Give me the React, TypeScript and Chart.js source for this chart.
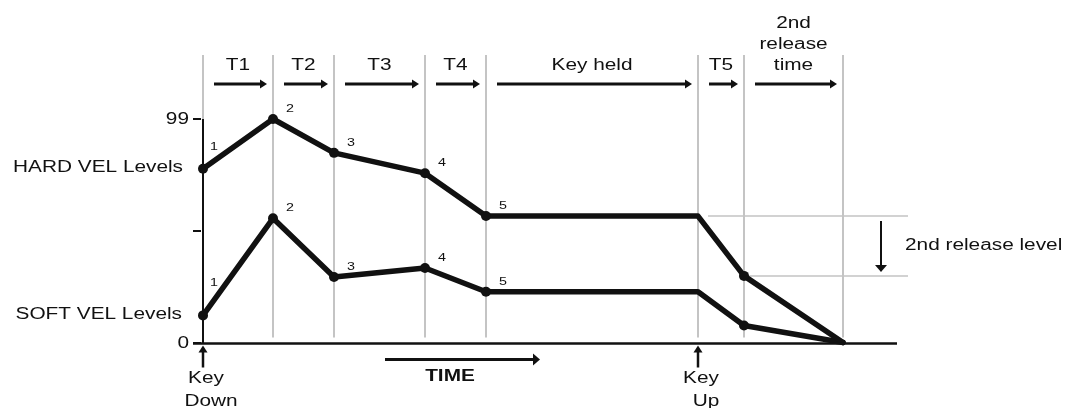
import React, { useEffect, useRef } from "react";
import { Chart, registerables } from "chart.js";

Chart.register(...registerables);

// ---- data ----
const times = [0, 70, 131, 222, 283, 495, 541, 640];
const hardLevels = [77, 99, 84, 75, 56, 56, 29.5, 0];
const softLevels = [12, 55, 29, 33, 22.5, 22.5, 7.5, 0];
const pointNumbers = ["1", "2", "3", "4", "5", "", "", ""];
const pointDots = [true, true, true, true, true, false, true, false];
const segmentLabels = [["T1"], ["T2"], ["T3"], ["T4"], ["Key held"], ["T5"], ["2nd", "release", "time"]];
const seriesNames = ["HARD VEL Levels", "SOFT VEL Levels"];
const yTickValues = [0, 49.5, 99];
const yTickLabels = ["0", "", "99"];
const keyDownLabel = ["Key", "Down"];
const keyUpLabel = ["Key", "Up"];
const releaseLevelLabel = "2nd release level";
const timeLabel = "TIME";
const X_MAX = 694;
const Y_MAX = 99;

const FONT = '"Liberation Sans", Arial, sans-serif';
const SX = 1.3;
const GRAY = "#c4c4c4";
const INK = "#111111";

function txt(ctx: CanvasRenderingContext2D, s: string, x: number, y: number, align: CanvasTextAlign, font: string) {
  ctx.save();
  ctx.translate(x, y);
  ctx.scale(SX, 1);
  ctx.font = font;
  ctx.textAlign = align;
  ctx.textBaseline = "middle";
  ctx.fillStyle = INK;
  ctx.fillText(s, 0, 0);
  ctx.restore();
}

function arrowH(ctx: CanvasRenderingContext2D, x1: number, x2: number, y: number, lw: number, hl: number, hw: number) {
  ctx.save();
  ctx.strokeStyle = INK;
  ctx.fillStyle = INK;
  ctx.lineWidth = lw;
  ctx.beginPath();
  ctx.moveTo(x1, y);
  ctx.lineTo(x2 - hl + 1, y);
  ctx.stroke();
  ctx.beginPath();
  ctx.moveTo(x2, y);
  ctx.lineTo(x2 - hl, y - hw);
  ctx.lineTo(x2 - hl, y + hw);
  ctx.closePath();
  ctx.fill();
  ctx.restore();
}

function arrowV(ctx: CanvasRenderingContext2D, x: number, yTail: number, yTip: number, lw: number, hl: number, hw: number) {
  const dir = yTip > yTail ? 1 : -1;
  ctx.save();
  ctx.strokeStyle = INK;
  ctx.fillStyle = INK;
  ctx.lineWidth = lw;
  ctx.beginPath();
  ctx.moveTo(x, yTail);
  ctx.lineTo(x, yTip - dir * (hl - 1));
  ctx.stroke();
  ctx.beginPath();
  ctx.moveTo(x, yTip);
  ctx.lineTo(x - hw, yTip - dir * hl);
  ctx.lineTo(x + hw, yTip - dir * hl);
  ctx.closePath();
  ctx.fill();
  ctx.restore();
}

const envelopePlugin = {
  id: "envelope",
  beforeDatasetsDraw(chart: any) {
    const ctx: CanvasRenderingContext2D = chart.ctx;
    const xs = chart.scales.x;
    const ys = chart.scales.y;
    const top = 55;
    const bottom = ys.getPixelForValue(0) - 5;
    ctx.save();
    ctx.strokeStyle = GRAY;
    ctx.lineWidth = 2;
    times.forEach((t) => {
      const x = Math.round(xs.getPixelForValue(t));
      ctx.beginPath();
      ctx.moveTo(x, top);
      ctx.lineTo(x, bottom);
      ctx.stroke();
    });
    const rightEnd = xs.getPixelForValue(X_MAX) + 11;
    const y1 = Math.round(ys.getPixelForValue(hardLevels[5]));
    const y2 = Math.round(ys.getPixelForValue(hardLevels[6]));
    ctx.lineWidth = 1.5;
    ctx.beginPath();
    ctx.moveTo(xs.getPixelForValue(times[5]) + 10, y1);
    ctx.lineTo(rightEnd, y1);
    ctx.moveTo(xs.getPixelForValue(times[6]), y2);
    ctx.lineTo(rightEnd, y2);
    ctx.stroke();
    ctx.restore();
  },
  afterDatasetsDraw(chart: any) {
    const ctx: CanvasRenderingContext2D = chart.ctx;
    const xs = chart.scales.x;
    const ys = chart.scales.y;
    const x0 = xs.getPixelForValue(0);
    const y0 = ys.getPixelForValue(0);
    const yTop = ys.getPixelForValue(Y_MAX);
    const xEnd = xs.getPixelForValue(X_MAX);

    // axes
    ctx.save();
    ctx.strokeStyle = INK;
    ctx.lineWidth = 2;
    ctx.beginPath();
    ctx.moveTo(x0, yTop);
    ctx.lineTo(x0, y0 + 1);
    ctx.stroke();
    ctx.lineWidth = 2.5;
    ctx.beginPath();
    ctx.moveTo(x0 - 10, y0 + 1);
    ctx.lineTo(xEnd, y0 + 1);
    ctx.stroke();
    ctx.lineWidth = 2;
    yTickValues.forEach((v, i) => {
      const y = Math.round(ys.getPixelForValue(v));
      ctx.beginPath();
      ctx.moveTo(x0 - 10, y);
      ctx.lineTo(x0 - 2, y);
      ctx.stroke();
      if (yTickLabels[i]) txt(ctx, yTickLabels[i], x0 - 14, y + 1, "right", `16px ${FONT}`);
    });
    ctx.restore();

    // series names
    txt(ctx, seriesNames[0], x0 - 20, ys.getPixelForValue(hardLevels[0]) - 1, "right", `16px ${FONT}`);
    txt(ctx, seriesNames[1], x0 - 21, ys.getPixelForValue(softLevels[0]) - 1, "right", `16px ${FONT}`);

    // point numbers
    const lift = [22, 32];
    [hardLevels, softLevels].forEach((levels, si) => {
      levels.forEach((v, i) => {
        if (!pointNumbers[i]) return;
        const px = xs.getPixelForValue(times[i]);
        const py = ys.getPixelForValue(v);
        if (i === 0) txt(ctx, pointNumbers[i], px + 11, py - lift[si], "center", `11px ${FONT}`);
        else txt(ctx, pointNumbers[i], px + 17, py - 10, "center", `11px ${FONT}`);
      });
    });

    // segment labels and arrows
    for (let i = 0; i < segmentLabels.length; i++) {
      const a = xs.getPixelForValue(times[i]);
      const b = xs.getPixelForValue(times[i + 1]);
      const lines = segmentLabels[i];
      lines.forEach((l, li) => {
        txt(ctx, l, (a + b) / 2, 66 - (lines.length - 1 - li) * 21, "center", `16px ${FONT}`);
      });
      arrowH(ctx, a + 11, b - 6, 84, 3, 7, 4.5);
    }

    // key down / key up
    [[times[0], keyDownLabel], [times[5], keyUpLabel]].forEach(([t, lab]: any) => {
      const x = xs.getPixelForValue(t);
      arrowV(ctx, x, y0 + 25, y0 + 3, 2.5, 7, 4.5);
      txt(ctx, lab[0], x + 3, y0 + 36, "center", `16px ${FONT}`);
      txt(ctx, lab[1], x + 8, y0 + 59, "center", `16px ${FONT}`);
    });

    // time arrow
    arrowH(ctx, 385, 540, y0 + 17, 3, 7, 6);
    txt(ctx, timeLabel, 450, y0 + 34, "center", `bold 16px ${FONT}`);

    // 2nd release level arrow
    const yr1 = ys.getPixelForValue(hardLevels[5]);
    const yr2 = ys.getPixelForValue(hardLevels[6]);
    arrowV(ctx, 881, yr1 + 5, yr2 - 4, 2, 7, 6);
    txt(ctx, releaseLevelLabel, 905, (yr1 + yr2) / 2, "left", `16px ${FONT}`);
  },
};

export default function App() {
  const ref = useRef<HTMLCanvasElement | null>(null);
  useEffect(() => {
    if (!ref.current) return;
    const mk = (levels: number[], label: string) => ({
      label,
      data: levels.map((v, i) => ({ x: times[i], y: v })),
      borderColor: INK,
      backgroundColor: INK,
      borderWidth: 5.5,
      borderJoinStyle: "round" as const,
      borderCapStyle: "round" as const,
      pointRadius: pointDots.map((d) => (d ? 5 : 0)),
      pointBorderWidth: 0,
      pointBackgroundColor: INK,
      tension: 0,
      clip: false as any,
    });
    const chart = new Chart(ref.current, {
      type: "line",
      data: { datasets: [mk(hardLevels, seriesNames[0]), mk(softLevels, seriesNames[1])] },
      options: {
        animation: false,
        responsive: false,
        devicePixelRatio: 1,
        layout: { padding: { left: 203, right: 171, top: 119, bottom: 65.5 } },
        scales: {
          x: { type: "linear", min: 0, max: X_MAX, display: false },
          y: { type: "linear", min: 0, max: Y_MAX, display: false },
        },
        plugins: { legend: { display: false }, tooltip: { enabled: false } },
      },
      plugins: [envelopePlugin],
    });
    return () => chart.destroy();
  }, []);
  return (
    <div style={{ position: "fixed", left: 0, top: 0, width: 1068, height: 408, background: "#fff" }}>
      <canvas ref={ref} width={1068} height={408} style={{ width: 1068, height: 408, display: "block" }} />
    </div>
  );
}
